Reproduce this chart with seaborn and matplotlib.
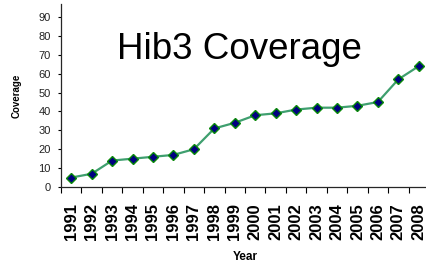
import numpy as np
import pandas as pd
import matplotlib
matplotlib.use('Agg')
import matplotlib.pyplot as plt
import seaborn as sns

# values
years = ['1991', '1992', '1993', '1994', '1995', '1996', '1997', '1998', '1999',
         '2000', '2001', '2002', '2003', '2004', '2005', '2006', '2007', '2008']
coverage = [5, 7, 14, 15, 16, 17, 20, 31, 34, 38, 39, 41, 42, 42, 43, 45, 57, 64]
y_ticks = [0, 10, 20, 30, 40, 50, 60, 70, 80, 90]

df = pd.DataFrame({'Year': years, 'Coverage': coverage})

sns.set_style('ticks')
plt.rcParams['font.family'] = ['Liberation Sans', 'DejaVu Sans']
plt.rcParams['text.color'] = 'black'
plt.rcParams['axes.labelcolor'] = 'black'
plt.rcParams['xtick.color'] = 'black'
plt.rcParams['ytick.color'] = 'black'

fig = plt.figure(figsize=(4.26, 2.66), dpi=100)
ax = fig.add_axes([61 / 426, 79 / 266, 368 / 426, 183 / 266])

sns.lineplot(data=df, x='Year', y='Coverage', ax=ax, sort=False,
             color='#3f9f6f', linewidth=1.6, marker='D', markersize=5.5,
             markerfacecolor='#000080', markeredgecolor='#0a8a0a',
             markeredgewidth=1.0)

ax.set_xlim(-0.5, len(years) - 0.5)
ax.set_ylim(0, 96.9)
ax.set_yticks(y_ticks)
ax.tick_params(axis='y', labelsize=8, length=2.5, width=0.8, pad=5, labelcolor='#222222')
ax.tick_params(axis='x', length=0, labelsize=12, pad=11.5)
for lab in ax.get_xticklabels():
    lab.set_rotation(90)
    lab.set_fontweight('bold')
ax.set_xticks(np.arange(len(years) + 1) - 0.5, minor=True)
ax.tick_params(axis='x', which='minor', length=4, width=0.8)

ax.set_xlabel('Year', fontsize=8.5, fontweight='bold')
ax.set_ylabel('Coverage', fontsize=7, fontweight='bold')
ax.xaxis.set_label_coords(0.5, -0.35)
ax.yaxis.set_label_coords(-0.106, 0.5)

for s in ['top', 'right']:
    ax.spines[s].set_visible(False)
ax.spines['left'].set_linewidth(0.9)
ax.spines['bottom'].set_linewidth(0.9)

ax.text(178 / 368, 1 - 55 / 183, 'Hib3 Coverage', transform=ax.transAxes,
        fontsize=26.5, ha='center', va='baseline', color='black')

fig.savefig('out.png', dpi=100)
